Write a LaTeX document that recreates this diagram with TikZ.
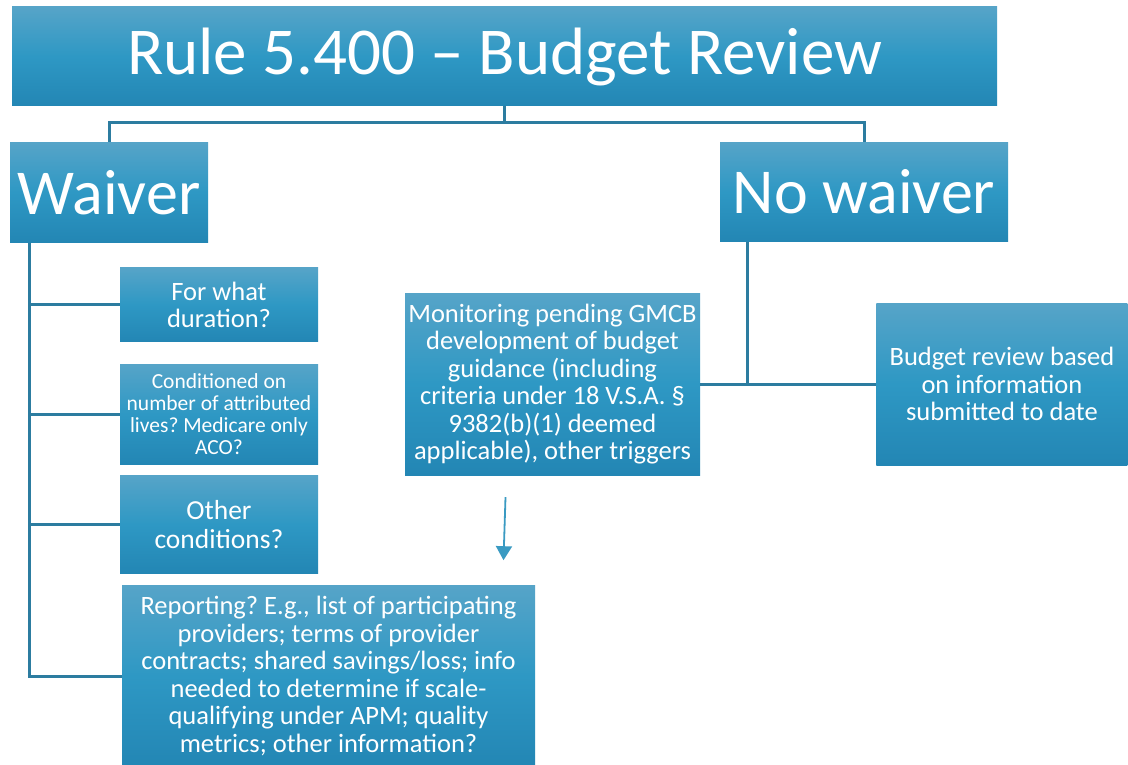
\documentclass[tikz,border=0pt]{standalone}
\usepackage{fontspec}
\setmainfont{Carlito}
\usetikzlibrary{positioning,calc,arrows.meta}
\frenchspacing

\definecolor{boxtop}{RGB}{86,164,200}
\definecolor{boxmid}{RGB}{46,152,196}
\definecolor{boxbot}{RGB}{35,134,180}
\definecolor{linkblue}{RGB}{44,124,160}
\definecolor{arrowblue}{RGB}{58,154,194}

\begin{document}
\begin{tikzpicture}[x=1pt, y=1pt,
    box/.style={rectangle, top color=boxtop, bottom color=boxbot, middle color=boxmid, text=white, align=center, inner sep=0pt},
    bigbox/.style={box, font=\fontsize{64}{70}\selectfont},
    smallbox/.style={box, minimum width=198pt, font=\fontsize{26.5}{27.5}\selectfont},
    link/.style={draw=linkblue, line width=3pt}]

    \useasboundingbox (0,0) rectangle (1128,-765);
    \fill[white] (0,0) rectangle (1128,-765);

    % Top level
    \node[box, minimum width=985pt, minimum height=99pt, font=\fontsize{67}{72}\selectfont] (title) at (504.5,-56.5) {Rule 5.400 -- Budget Review};
    \node[bigbox, minimum width=198pt, minimum height=100pt, below right=36pt and -2pt of title.south west] (waiver) {Waiver};
    \node[bigbox, minimum width=288pt, minimum height=99pt, below left=36pt and -11pt of title.south east] (nowaiver) {No waiver};

    % Waiver branch
    \node[smallbox, minimum height=74pt, below right=25pt and 110pt of waiver.south west] (duration) {For what\\duration?};
    \node[smallbox, minimum height=100pt, below=22pt of duration, font=\fontsize{21.5}{22}\selectfont] (conditioned) {Conditioned on\\number of attributed\\lives? Medicare only\\ACO?};
    \node[smallbox, minimum height=98pt, below=11pt of conditioned, font=\fontsize{27.5}{28.5}\selectfont] (other) {Other\\conditions?};
    \node[smallbox, minimum width=413pt, minimum height=182pt, below right=11pt and 2pt of other.south west] (reporting) {Reporting? E.g., list of participating\\providers; terms of provider\\contracts; shared savings/loss; info\\needed to determine if scale-\\qualifying under APM; quality\\metrics; other information?};

    % No waiver branch
    \node[smallbox, minimum width=295pt, minimum height=182pt] (monitoring) at (552.5,-384) {Monitoring pending GMCB\\development of budget\\guidance (including\\criteria under 18 V.S.A. \S\\9382(b)(1) deemed\\applicable), other triggers};
    \node[smallbox, minimum width=251pt, minimum height=162pt, right=176pt of monitoring] (budget) {Budget review based\\on information\\submitted to date};

    % Connectors
    \draw[link] (title.south) -- ++(0,-16) coordinate (split);
    \draw[link] (split) -| (waiver.north);
    \draw[link] (split) -| (nowaiver.north);

    \coordinate (wtrunk) at ($(waiver.south west)+(20,0)$);
    \draw[link] (wtrunk) |- (reporting.west);
    \foreach \nd in {duration,conditioned,other}
        \draw[link] (wtrunk |- \nd.west) -- (\nd.west);

    \coordinate (ntrunk) at ($(nowaiver.south west)+(28,0)$);
    \draw[link] (ntrunk) |- (monitoring.east);
    \draw[link] (ntrunk |- budget.west) -- (budget.west);

    % Pending arrow
    \coordinate (pstart) at ($(monitoring.south)+(-47,-22)$);
    \coordinate (pend) at ($(pstart)+(-2,-63)$);
    \draw[arrowblue, line width=1.8pt, -{Triangle[width=16pt,length=14pt]}] (pstart) -- (pend);

\end{tikzpicture}
\end{document}
